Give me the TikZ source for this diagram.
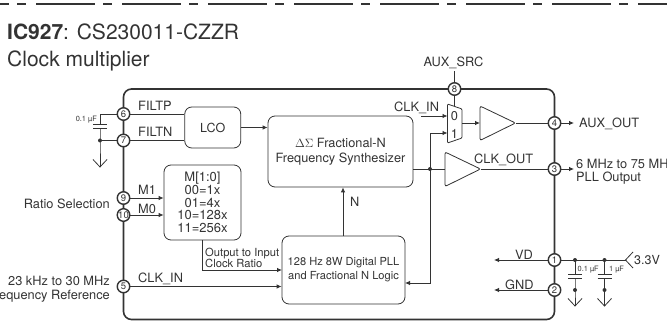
\documentclass[tikz,border=0pt]{standalone}
\usepackage{fontspec}
\setmainfont{TeX Gyre Heros}
\usetikzlibrary{arrows.meta}
\definecolor{ink}{gray}{0.2}
\tikzset{
  wire/.style={draw=ink,line width=0.8pt},
  arr/.style={wire,-{Latex[length=5pt,width=4.5pt]}},
  blk/.style={draw=ink,line width=0.8pt,rounded corners=7pt,align=center,inner sep=0pt,fill=white,text=ink,font=\fontsize{11.1}{14}\selectfont},
  pin/.style={circle,draw=ink,fill=white,line width=1.4pt,minimum size=12.5pt,inner sep=0pt,text=ink,font=\fontsize{9.5}{10}\selectfont},
  lab/.style={inner sep=0pt,text=ink,font=\fontsize{12.8}{15}\selectfont,align=left},
  tiny/.style={inner sep=0pt,text=ink,font=\fontsize{7.4}{8}\selectfont},
  chipline/.style={draw=ink,line width=1.6pt},
  dotn/.style={circle,fill=ink,inner sep=0pt,minimum size=4pt},
  gnd/.style={draw=ink,line width=0.8pt},
  plate/.style={draw=ink,line width=1pt}
}
\begin{document}
\begin{tikzpicture}[x=1pt,y=-1pt]
\useasboundingbox (0,0) rectangle (667,326);
\clip (0,0) rectangle (667,326);
% top dashed rule
\draw[ink,line width=1.3pt,dash pattern=on 59pt off 8pt on 9pt off 10pt,dash phase=50pt] (0,4) -- (667,4);
% title
\node[lab,anchor=base west,font=\fontsize{21}{24}\selectfont] (title1) at (7,40) {\textbf{IC927}: CS230011-CZZR};
\node[lab,anchor=base west,font=\fontsize{21}{24}\selectfont] (title2) at (7,66.5) {Clock multiplier};
% chip
\draw[chipline,rounded corners=8pt] (123.5,89) rectangle (554.5,319.5);
% blocks
\node[blk,minimum width=56pt,minimum height=41pt,font=\fontsize{12.5}{14}\selectfont] (lco) at (212.75,127.5) {LCO};
\node[blk,minimum width=145pt,minimum height=71pt,font=\fontsize{12.75}{15}\selectfont] (ds) at (340.5,151.5) {$\Delta\Sigma$ Fractional-N\\Frequency Synthesizer};
\node[blk,minimum width=77pt,minimum height=75pt,font=\fontsize{13}{12.6}\selectfont] (mbox) at (202.5,202.5) {M[1:0]\\00=1x\\01=4x\\10=128x\\11=256x};
\node[blk,minimum width=123pt,minimum height=68pt] (pll) at (343.5,270) {128 Hz 8W Digital PLL\\and Fractional N Logic};
% pins
\node[pin] (p6) at (123.5,114) {6};
\node[pin] (p7) at (123.5,140.5) {7};
\node[pin] (p9) at (123.5,198) {9};
\node[pin] (p10) at (123.5,215) {10};
\node[pin] (p5) at (123.5,286.5) {5};
\node[pin] (p8) at (454.5,89) {8};
\node[pin] (p4) at (554.5,123) {4};
\node[pin] (p3) at (554.5,169) {3};
\node[pin] (p1) at (554.5,260) {1};
\node[pin] (p2) at (554.5,290) {2};
% mux and amplifiers
\draw[wire,line join=round,rounded corners=1pt,fill=white] (447.5,104) -- (462,109) -- (462,138) -- (447.5,143) -- cycle;
\node[lab] (mux0) at (454.5,116.5) {0};
\node[lab] (mux1) at (454.5,133.5) {1};
\coordinate (muxtop) at (454.5,106.5);
\coordinate (muxout) at (462,123);
\coordinate (mux0in) at (447.5,116);
\coordinate (mux1in) at (447.5,133);
\draw[wire,rounded corners=2pt,fill=white] (480,106) -- (515.5,123) -- (480,140.5) -- cycle;
\coordinate (amp1in) at (480,123);
\coordinate (amp1out) at (515.5,123);
\draw[wire,rounded corners=2pt,fill=white] (445,152) -- (480.5,169) -- (445,186.5) -- cycle;
\coordinate (amp2in) at (445,169);
\coordinate (amp2out) at (480.5,169);
% internal wires
\draw[wire] (p6) -- (p6 -| lco.west);
\draw[wire] (p7) -- (p7 -| lco.west);
\coordinate (lcoout) at (lco.east);
\draw[arr] (lcoout) -- (lcoout -| ds.west);
\draw[arr] (p9) -- (p9 -| mbox.west);
\draw[arr] (p10) -- (p10 -| mbox.west);
\coordinate (mdown) at (202.5,240);
\coordinate (pllin1) at (282,270);
\draw[arr] (mdown) |- (pllin1);
\draw[arr] (p5) -- (p5 -| pll.west);
\coordinate (nx) at (343,236);
\draw[arr] (nx) -- (nx |- ds.south);
\coordinate (branch) at (430,169);
\coordinate (dsout) at (413,169);
\draw[wire] (dsout) -- (amp2in);
\node[dotn] (bdot) at (branch) {};
\coordinate (pllin2) at (405,283);
\draw[arr] (bdot.center) |- (pllin2);
\draw[arr] (bdot.center) |- (mux1in);
\coordinate (clkinstart) at (421,116);
\draw[arr] (clkinstart) -- (mux0in);
\draw[arr] (muxout) -- (amp1in);
\draw[wire] (amp1out) -- (p4);
\draw[wire] (amp2out) -- (p3);
\draw[wire] (p8) -- (muxtop);
\coordinate (auxtop) at (454.5,71);
\draw[wire] (p8) -- (auxtop);
% outside outputs
\coordinate (aux) at (574,123);
\coordinate (clkout) at (574,169);
\draw[arr] (p4) -- (aux);
\draw[arr] (p3) -- (clkout);
\coordinate (vdend) at (494,260);
\coordinate (gndend) at (494,290);
\draw[arr] (p1) -- (vdend);
\draw[arr] (p2) -- (gndend);
% supply side
\coordinate (vtip) at (625.5,260);
\draw[wire] (p1) -- (vtip);
\draw[wire] (633,252) -- (vtip) -- (633,268);
\foreach \n/\x in {a/575,b/604.5}{
  \node[dotn] (top\n) at (\x,260) {};
  \node[dotn] (bot\n) at (\x,290) {};
  \draw[wire] (top\n.center) -- (\x,274);
  \draw[plate] (\x-7,274) -- (\x+7,274);
  \draw[plate] (\x-7,278.5) -- (\x+7,278.5);
  \draw[wire] (\x,278.5) -- (bot\n.center) -- (\x,306);
  \draw[gnd] (\x-7,298.5) -- (\x,306) -- (\x+7,298.5);
}
% filter capacitor
\node[dotn] (fdot) at (100,140.5) {};
\draw[wire] (p6) -- (100,114) -- (100,124);
\draw[plate] (93,124.5) -- (107,124.5);
\draw[plate] (93,129) -- (107,129);
\draw[wire] (100,129) -- (fdot.center) -- (100,167);
\draw[wire] (fdot.center) -- (p7);
\draw[gnd] (93,159.5) -- (100,167) -- (107,159.5);
% labels
\node[lab,anchor=base west] (lf1) at (138,110.5) {FILTP};
\node[lab,anchor=base west] (lf2) at (138,136.5) {FILTN};
\node[lab,anchor=base west] (lm1) at (138,194.5) {M1};
\node[lab,anchor=base west] (lm0) at (138,213) {M0};
\node[lab,anchor=base west] (lci) at (138,282) {CLK\_IN};
\node[lab,anchor=base west] (lci2) at (394,111.5) {CLK\_IN};
\node[lab,anchor=base] (lsrc) at (453.5,67) {AUX\_SRC};
\node[lab,anchor=base west] (lco2) at (474,163.5) {CLK\_OUT};
\node[lab,anchor=base west] (laux) at (579,127.5) {AUX\_OUT};
\node[lab,anchor=base west] (lhz) at (576,168) {6 MHz to 75 MHz};
\node[lab,anchor=base west] (lpo) at (576,182) {PLL Output};
\node[lab,anchor=base west] (ln) at (350,206) {N};
\node[lab,anchor=base west] (lvd) at (515,259) {VD};
\node[lab,anchor=base west] (lgnd) at (505,289) {GND};
\node[lab,anchor=base west,font=\fontsize{12.5}{14}\selectfont] (lv) at (634,264.5) {3.3V};
\node[lab,anchor=base east] (lrs) at (110,208) {Ratio Selection};
\node[lab,anchor=base east] (lhz2) at (110,285) {23 kHz to 30 MHz};
\node[lab,anchor=base east] (lfr) at (110,299.5) {Frequency Reference};
\node[lab,anchor=base west,font=\fontsize{11.2}{12}\selectfont] (lr1) at (205,256) {Output to Input};
\node[lab,anchor=base west,font=\fontsize{11.2}{12}\selectfont] (lr2) at (205,267) {Clock Ratio};
\node[tiny,anchor=base east] (lc1) at (97,122) {0.1 µF};
\node[tiny,anchor=base west] (lc2) at (577.5,271.5) {0.1 µF};
\node[tiny,anchor=base west] (lc3) at (609,271.5) {1 µF};
\end{tikzpicture}
\end{document}
